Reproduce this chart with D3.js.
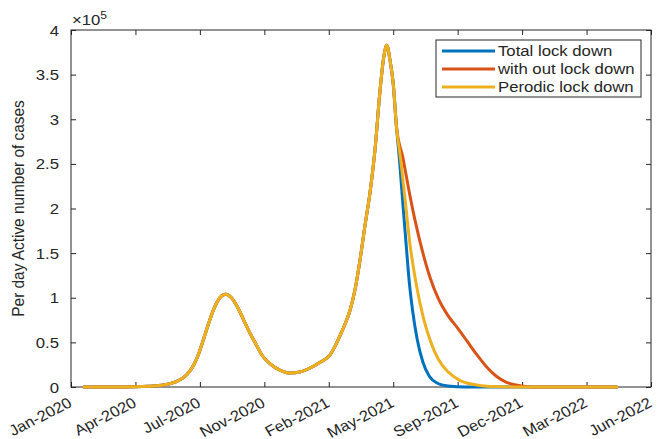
<!DOCTYPE html>
<html>
<head>
<meta charset="utf-8">
<script src="https://cdn.jsdelivr.net/npm/d3@7"></script>
<style>
  html, body { margin: 0; padding: 0; background: #fff; }
  svg { display: block; }
  text { font-family: "Liberation Sans", Arial, Helvetica, sans-serif; fill: #262626; }
</style>
</head>
<body>
<div id="chart"></div>
<script>
// ---------- data ----------
const xTickDays = [0, 100, 200, 300, 400, 500, 600, 700, 800, 900];
const xTickLabels = ["Jan-2020", "Apr-2020", "Jul-2020", "Nov-2020", "Feb-2021",
                     "May-2021", "Sep-2021", "Dec-2021", "Mar-2022", "Jun-2022"];
const yTickValues = [0, 50000, 100000, 150000, 200000, 250000, 300000, 350000, 400000];
const yTickLabels = ["0", "0.5", "1", "1.5", "2", "2.5", "3", "3.5", "4"];

// shared epidemic course up to the intervention (days since start of axis)
const commonDays = [20, 80, 120, 145, 165, 180, 190, 198, 205, 213, 222, 231, 240, 249, 258, 268, 278,
  287, 297, 309, 324, 340, 355, 371, 386, 402, 410, 417, 425, 433, 441, 448, 456, 464, 472, 479, 485,
  490, 495, 500, 505];
const commonValues = [0, 0, 800, 2500, 6500, 14000, 24000, 37000, 52000, 70000, 88000, 100000, 104000,
  100000, 90000, 75000, 60000, 48000, 35000, 26000, 19000, 15700, 16800, 21300, 27500, 36000, 46000,
  57000, 70000, 86000, 110000, 140000, 180000, 218000, 268000, 328000, 368000, 383000, 366000,
  340000, 292000];

// Total lock down tail
const totalDays = [510, 515, 520, 525, 530, 537, 546, 556, 568, 585, 612, 847];
const totalValues = [252000, 205000, 160000, 117000, 86000, 54000, 28000, 12000, 4500, 1200, 0, 0];

// With out lock down tail
const withoutDays = [515, 525, 535, 545, 557, 570, 585, 600, 615, 630, 645, 660, 675, 690, 705, 725, 847];
const withoutValues = [257000, 218000, 183000, 153000, 123000, 99000, 80000, 66000, 51000, 36000,
  22500, 12000, 5500, 2200, 600, 0, 0];

// Periodic lock down tail
const periodicDays = [512, 518, 526, 536, 547, 558, 570, 585, 603, 625, 650, 685, 847];
const periodicValues = [252000, 213000, 160000, 114000, 77000, 51000, 31000, 17000, 7500, 2800, 600, 0, 0];

const seriesNames = ["Total lock down", "with out lock down", "Perodic lock down"];
const seriesColors = ["#0072BD", "#D95319", "#EDB120"];

// ---------- build ----------
function buildSeries(tailDays, tailValues) {
  const pts = commonDays.map((d, i) => ({ d, v: commonValues[i] }));
  tailDays.forEach((d, i) => pts.push({ d, v: tailValues[i] }));
  return pts;
}
const series = [
  buildSeries(totalDays, totalValues),
  buildSeries(withoutDays, withoutValues),
  buildSeries(periodicDays, periodicValues)
];

const W = 660, H = 439;
const L = 71, R = 651, T = 30, B = 387;
const SX = 1.1;      // horizontal stretch of the reference image text
const FS = 15.2;     // font size

const svg = d3.select("#chart").append("svg").attr("width", W).attr("height", H);

const x = d3.scaleLinear().domain([0, 900]).range([L, R]);
const y = d3.scaleLinear().domain([0, 400000]).range([B, T]);

function stretchedText(parent, tx, ty, str, anchor, size, extra) {
  const g = parent.append("g").attr("transform", `translate(${tx},${ty}) scale(${SX},1)` + (extra || ""));
  return g.append("text").attr("x", 0).attr("y", 0).attr("text-anchor", anchor || "start")
    .style("font-size", (size || FS) + "px").text(str);
}

// axes (ticks inward, MATLAB style)
const axisColor = "#262626";
function styleAxis(g) {
  g.select(".domain").remove();
  g.selectAll("line").attr("stroke", axisColor);
  g.selectAll("text").remove();
}
svg.append("g").attr("transform", `translate(0,${B})`)
  .call(d3.axisBottom(x).tickValues(xTickDays).tickSizeInner(-5).tickSizeOuter(0)).call(styleAxis);
svg.append("g").attr("transform", `translate(0,${T})`)
  .call(d3.axisTop(x).tickValues(xTickDays).tickSizeInner(-5).tickSizeOuter(0)).call(styleAxis);
svg.append("g").attr("transform", `translate(${L},0)`)
  .call(d3.axisLeft(y).tickValues(yTickValues).tickSizeInner(-5).tickSizeOuter(0)).call(styleAxis);
svg.append("g").attr("transform", `translate(${R},0)`)
  .call(d3.axisRight(y).tickValues(yTickValues).tickSizeInner(-5).tickSizeOuter(0)).call(styleAxis);

// tick labels
const xl = svg.append("g");
xTickDays.forEach((d, i) => {
  stretchedText(xl, x(d) + 2, B + 19, xTickLabels[i], "end", 15, " rotate(-29)");
});
const yl = svg.append("g");
yTickValues.forEach((v, i) => {
  stretchedText(yl, L - 12, y(v) + 5.5, yTickLabels[i], "end", FS);
});

// frame
svg.append("rect").attr("x", L).attr("y", T).attr("width", R - L).attr("height", B - T)
  .attr("fill", "none").attr("stroke", axisColor).attr("stroke-width", 1);

// exponent
const expo = stretchedText(svg, L + 1, 25, "", "start", FS);
expo.append("tspan").text("\u00d710");
expo.append("tspan").attr("dy", -6).style("font-size", "11px").text("5");

// y label
svg.append("text")
  .attr("transform", `translate(24,${(T + B) / 2}) scale(${SX},1) rotate(-90)`)
  .attr("text-anchor", "middle").style("font-size", "15.4px")
  .text("Per day Active number of cases");

// lines
const line = d3.line().x(p => x(p.d)).y(p => y(p.v)).curve(d3.curveMonotoneX);
svg.append("g").selectAll("path").data(series).join("path")
  .attr("d", line)
  .attr("fill", "none")
  .attr("stroke", (d, i) => seriesColors[i])
  .attr("stroke-width", 3)
  .attr("stroke-linejoin", "round").attr("stroke-linecap", "round");

// legend
const lg = svg.append("g");
lg.append("rect").attr("x", 436).attr("y", 40).attr("width", 205).attr("height", 57)
  .attr("fill", "#fff").attr("stroke", axisColor).attr("stroke-width", 1);
seriesNames.forEach((name, i) => {
  const yy = 51 + i * 18;
  lg.append("line").attr("x1", 442).attr("x2", 495).attr("y1", yy).attr("y2", yy)
    .attr("stroke", seriesColors[i]).attr("stroke-width", 3);
  stretchedText(lg, 498, yy + 5.3, name, "start", 15.2);
});
</script>
</body>
</html>
